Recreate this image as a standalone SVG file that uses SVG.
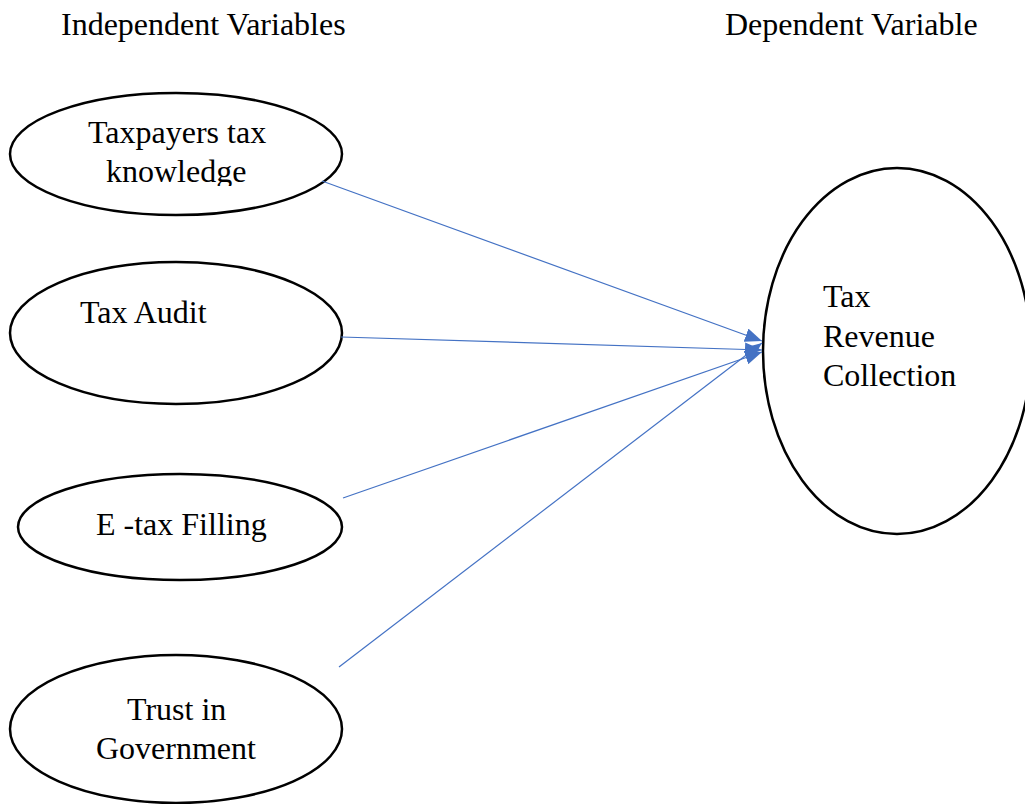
<svg xmlns="http://www.w3.org/2000/svg" width="1025" height="804" viewBox="0 0 1025 804">
<style>
  .node { fill: #ffffff; stroke: #000000; stroke-width: 2.5; }
  .lbl { font-family: "Liberation Serif", "Times New Roman", serif; font-size: 32px; fill: #000000; }
  .conn { stroke: #4472C4; stroke-width: 1.2; fill: none; marker-end: url(#arr); }
</style>
<defs>
  <marker id="arr" markerUnits="userSpaceOnUse" markerWidth="18" markerHeight="14" refX="17" refY="7" orient="auto">
    <path d="M0,0 L17,7 L0,14 z" fill="#4472C4"/>
  </marker>
  <clipPath id="clipK"><rect x="0" y="100" width="360" height="86"/></clipPath>
</defs>
<rect width="1025" height="804" fill="#ffffff"/>
<g id="headers">
  <text class="lbl" x="61" y="35">Independent Variables</text>
  <text class="lbl" x="725" y="35">Dependent Variable</text>
</g>
<g id="node-knowledge">
  <ellipse class="node" cx="176" cy="154" rx="166" ry="61"/>
  <text class="lbl" x="88" y="143">Taxpayers tax</text>
  <text class="lbl" x="106" y="182" clip-path="url(#clipK)">knowledge</text>
</g>
<g id="node-audit">
  <ellipse class="node" cx="176" cy="333" rx="166" ry="71"/>
  <text class="lbl" x="80" y="323">Tax Audit</text>
</g>
<g id="node-efiling">
  <ellipse class="node" cx="180" cy="527" rx="162" ry="53"/>
  <text class="lbl" x="96" y="535">E -tax Filling</text>
</g>
<g id="node-trust">
  <ellipse class="node" cx="176" cy="729" rx="166" ry="74"/>
  <text class="lbl" x="127" y="720">Trust in</text>
  <text class="lbl" x="96" y="759">Government</text>
</g>
<g id="node-revenue">
  <ellipse class="node" cx="897" cy="351" rx="134" ry="183"/>
  <text class="lbl" x="823" y="307">Tax</text>
  <text class="lbl" x="823" y="347">Revenue</text>
  <text class="lbl" x="823" y="386">Collection</text>
</g>
<g id="connectors">
  <line class="conn" x1="322" y1="181" x2="762" y2="341"/>
  <line class="conn" x1="341" y1="337" x2="762" y2="350"/>
  <line class="conn" x1="343" y1="498" x2="762" y2="352"/>
  <line class="conn" x1="339" y1="667" x2="762" y2="343"/>
</g>
</svg>
